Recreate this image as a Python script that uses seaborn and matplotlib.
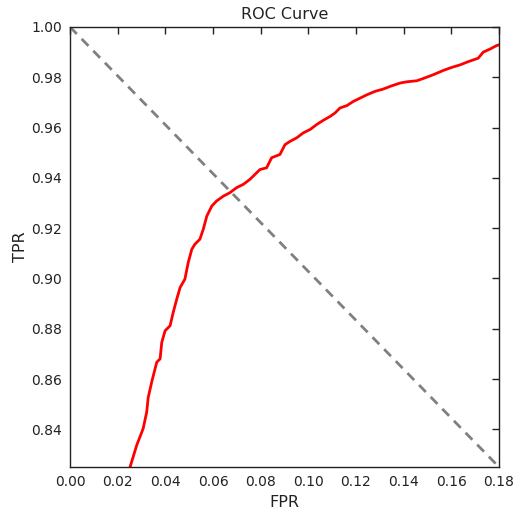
import matplotlib
matplotlib.use("Agg")
import matplotlib.pyplot as plt
import seaborn as sns
import pandas as pd

fpr = [0.0252, 0.0280, 0.0307, 0.0322, 0.0328, 0.0343, 0.0364, 0.0378, 0.0385,
       0.0399, 0.0420, 0.0433, 0.0448, 0.0462, 0.0482, 0.0496, 0.0511, 0.0524,
       0.0545, 0.0559, 0.0574, 0.0595, 0.0615, 0.0643, 0.0671, 0.0699, 0.0727,
       0.0755, 0.0783, 0.0797, 0.0825, 0.0846, 0.0881, 0.0902, 0.0923, 0.0951,
       0.0979, 0.1007, 0.1035, 0.1063, 0.1091, 0.1112, 0.1133, 0.1161, 0.1189,
       0.1217, 0.1245, 0.1280, 0.1314, 0.1350, 0.1385, 0.1413, 0.1455, 0.1482,
       0.1524, 0.1566, 0.1601, 0.1636, 0.1671, 0.1713, 0.1734, 0.1762, 0.1790,
       0.1800]
tpr = [0.8250, 0.8337, 0.8403, 0.8470, 0.8526, 0.8589, 0.8667, 0.8680, 0.8746,
       0.8792, 0.8812, 0.8865, 0.8918, 0.8964, 0.8997, 0.9063, 0.9116, 0.9136,
       0.9156, 0.9195, 0.9248, 0.9288, 0.9308, 0.9327, 0.9341, 0.9361, 0.9374,
       0.9394, 0.9420, 0.9433, 0.9440, 0.9480, 0.9493, 0.9532, 0.9545, 0.9559,
       0.9579, 0.9592, 0.9612, 0.9629, 0.9644, 0.9658, 0.9678, 0.9687, 0.9704,
       0.9717, 0.9730, 0.9744, 0.9753, 0.9766, 0.9777, 0.9782, 0.9786, 0.9795,
       0.9810, 0.9827, 0.9839, 0.9849, 0.9862, 0.9876, 0.9900, 0.9912, 0.9926,
       0.9929]
diag_x = [0.0, 0.18]
diag_y = [1.0, 0.825]

xticks = [0.00, 0.02, 0.04, 0.06, 0.08, 0.10, 0.12, 0.14, 0.16, 0.18]
yticks = [0.84, 0.86, 0.88, 0.90, 0.92, 0.94, 0.96, 0.98, 1.00]

sns.set_style("white")
plt.rcParams['font.family'] = ['DejaVu Sans']

fig, ax = plt.subplots(figsize=(5.16, 5.09), dpi=100)
fig.subplots_adjust(left=0.1357, right=0.967, top=0.947, bottom=0.0825)

df = pd.DataFrame({"FPR": fpr, "TPR": tpr})
dd = pd.DataFrame({"x": diag_x, "y": diag_y})

sns.lineplot(data=df, x="FPR", y="TPR", sort=False, estimator=None,
             color="#ff0000", linewidth=2, ax=ax)
sns.lineplot(data=dd, x="x", y="y", sort=False, estimator=None,
             color="gray", linewidth=2, ax=ax, linestyle=(0, (3.5, 2.5)))

ax.set_xlim(0, 0.18)
ax.set_ylim(0.825, 1.0)
ax.set_xticks(xticks)
ax.set_yticks(yticks)
ax.set_xticklabels([f"{v:.2f}" for v in xticks])
ax.set_yticklabels([f"{v:.2f}" for v in yticks])
ax.tick_params(direction="in", length=5, width=1, top=True, right=True,
               labelsize=10, colors="#222222", pad=6)
for s in ax.spines.values():
    s.set_color("#222222")
    s.set_linewidth(1)
ax.set_xlabel("FPR", fontsize=11.5, color="#222222")
ax.set_ylabel("TPR", fontsize=11.5, color="#222222", labelpad=2)
ax.set_title("ROC Curve", fontsize=11.5, color="#222222")

fig.savefig("out.png", dpi=100)
